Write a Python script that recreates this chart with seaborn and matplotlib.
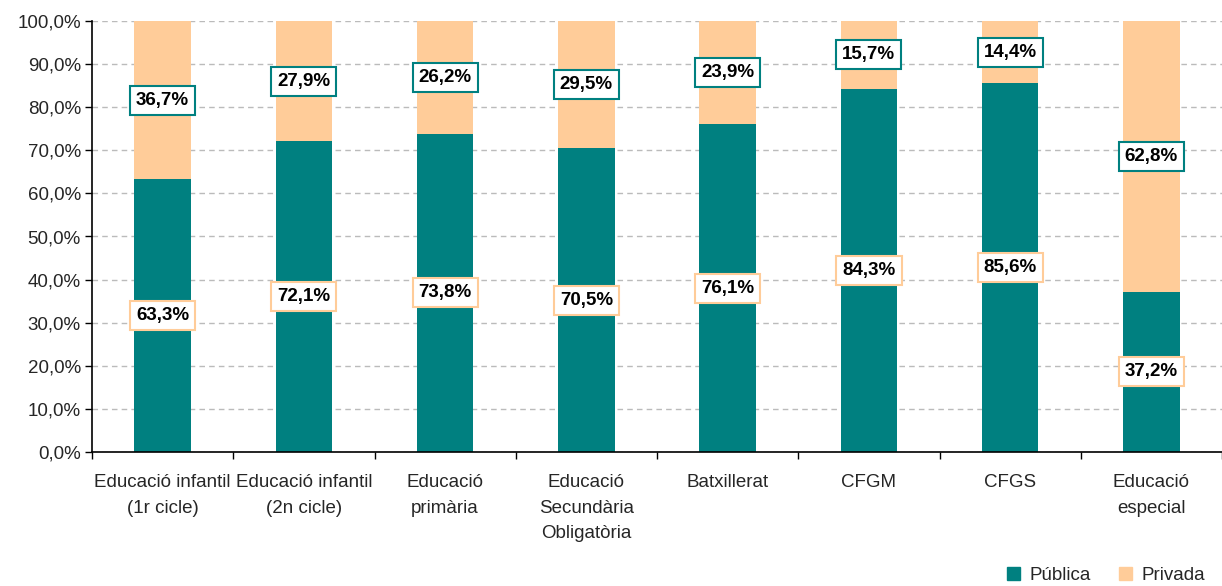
import matplotlib
matplotlib.use("Agg")
import matplotlib.pyplot as plt
import seaborn as sns
import pandas as pd
import numpy as np
from matplotlib.patches import Patch
from matplotlib.ticker import FuncFormatter, FixedLocator

categories = ["Educació infantil\n(1r cicle)", "Educació infantil\n(2n cicle)", "Educació\nprimària",
              "Educació\nSecundària\nObligatòria", "Batxillerat", "CFGM", "CFGS", "Educació\nespecial"]
publica = [63.3, 72.1, 73.8, 70.5, 76.1, 84.3, 85.6, 37.2]
privada = [36.7, 27.9, 26.2, 29.5, 23.9, 15.7, 14.4, 62.8]

teal = "#008080"
peach = "#FFCC99"

sns.set_theme(style="white")
plt.rcParams['font.family'] = ['Liberation Sans', 'DejaVu Sans']

df = pd.DataFrame({"cat": categories, "Pública": publica, "Privada": privada})
df["total"] = df["Pública"] + df["Privada"]

fig = plt.figure(figsize=(12.22, 5.86), dpi=100)
ax = fig.add_axes([92/1222, (586-452)/586, 1 - 92/1222, (452-21)/586])

sns.barplot(data=df, x="cat", y="total", color=peach, width=0.4, ax=ax, saturation=1, linewidth=0)
sns.barplot(data=df, x="cat", y="Pública", color=teal, width=0.4, ax=ax, saturation=1, linewidth=0)

ax.set_xlim(-0.5, -0.5 + 1130/142.5)
ax.set_ylim(0, 100)
ax.set_yticks(np.arange(0, 101, 10))
ax.yaxis.set_major_formatter(FuncFormatter(lambda v, p: f"{v:.1f}%".replace(".", ",")))
ax.yaxis.grid(True, linestyle=(0, (4, 3)), color="#BBBBBB", linewidth=1)
ax.set_axisbelow(True)
ax.set_xlabel("")
ax.set_ylabel("")

# x ticks at boundaries, labels centered
ax.set_xticks(np.arange(-0.5, 8, 1))
ax.set_xticklabels([])
ax.xaxis.set_minor_locator(FixedLocator(np.arange(len(categories))))
ax.set_xticklabels(categories, minor=True, linespacing=1.65)
ax.tick_params(axis="x", which="minor", length=0, pad=16, labelsize=13.5)
ax.tick_params(axis="x", which="major", length=5, width=1, direction="out", color="black", bottom=True)
ax.tick_params(axis="y", length=5, width=1, direction="out", color="black", left=True, labelsize=13.5, pad=3)

for s in ["top", "right"]:
    ax.spines[s].set_visible(False)
for s in ["left", "bottom"]:
    ax.spines[s].set_color("black")
    ax.spines[s].set_linewidth(1.2)

def fmt(v):
    return f"{v:.1f}%".replace(".", ",")

for i, (pu, pr) in enumerate(zip(publica, privada)):
    ax.text(i, pu / 2, fmt(pu), ha="center", va="center", fontsize=13.5, fontweight="bold",
            color="black", bbox=dict(boxstyle="square,pad=0.32", fc="white", ec=peach, lw=1.5))
    ax.text(i, pu + pr / 2, fmt(pr), ha="center", va="center", fontsize=13.5, fontweight="bold",
            color="black", bbox=dict(boxstyle="square,pad=0.32", fc="white", ec=teal, lw=1.5))

handles = [Patch(color=teal, label="Pública"), Patch(color=peach, label="Privada")]
fig.legend(handles=handles, loc="lower right", bbox_to_anchor=(1.0, -0.025), ncol=2, frameon=False,
           fontsize=13.5, handlelength=0.7, handleheight=0.7, columnspacing=1.5, handletextpad=0.5)

fig.savefig("out.png", dpi=100)
